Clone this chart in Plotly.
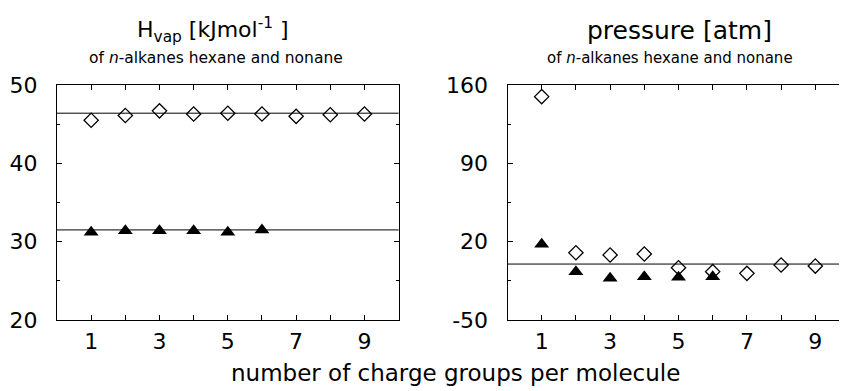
import plotly.graph_objects as go

# ---- data ----
charge_groups = [1, 2, 3, 4, 5, 6, 7, 8, 9]
hvap_nonane = [45.5, 46.1, 46.7, 46.3, 46.4, 46.3, 46.0, 46.2, 46.3]
hvap_hexane = [31.2, 31.4, 31.4, 31.4, 31.2, 31.5]
hvap_ref = [46.4, 31.5]          # experimental reference lines
press_nonane = [149.6, 10.1, 8.1, 9.0, -3.3, -6.8, -8.3, -0.9, -1.8]
press_hexane = [17.6, -6.8, -12.8, -11.3, -11.9, -11.3]
press_ref = [0.0]
x_ticks = [1, 2, 3, 4, 5, 6, 7, 8, 9]
x_ticktext = ["1", "", "3", "", "5", "", "7", "", "9"]
hvap_ticks = [20, 30, 40, 50]
hvap_ticktext = ["20", "30", "40", "50"]
press_ticks = [-50, 20, 90, 160]
press_ticktext = ["-50", "20", "90", "160"]

W, H = 847, 391
OFF = 8                      # page body margin offset
FW, FH = W - OFF, H - OFF
TOP, BOT = 85, 320           # plot area in page pixels
FONT = "DejaVu Sans, Liberation Sans, Arial, sans-serif"


def px(x):
    return (x - OFF) / FW


def py(y):
    return (BOT - y) / (BOT - TOP)


fig = go.Figure()

diamond = dict(symbol="diamond-open", size=11, color="black", line=dict(width=1.3, color="black"))
tri = dict(symbol="triangle-up", size=13, color="black", line=dict(width=0))

fig.add_trace(go.Scatter(x=charge_groups, y=hvap_nonane, mode="markers", marker=diamond,
                         xaxis="x", yaxis="y", showlegend=False))
fig.add_trace(go.Scatter(x=charge_groups[:len(hvap_hexane)], y=hvap_hexane, mode="markers", marker=tri,
                         xaxis="x", yaxis="y", showlegend=False))
fig.add_trace(go.Scatter(x=charge_groups, y=press_nonane, mode="markers", marker=diamond,
                         xaxis="x2", yaxis="y2", showlegend=False))
fig.add_trace(go.Scatter(x=charge_groups[:len(press_hexane)], y=press_hexane, mode="markers", marker=tri,
                         xaxis="x2", yaxis="y2", showlegend=False))

shapes = []
for v in hvap_ref:
    shapes.append(dict(type="line", xref="x domain", yref="y", x0=0, x1=1, y0=v, y1=v,
                       line=dict(color="black", width=1), layer="below"))
for v in press_ref:
    shapes.append(dict(type="line", xref="x2 domain", yref="y2", x0=0, x1=1, y0=v, y1=v,
                       line=dict(color="black", width=1), layer="below"))

x1_dom = [px(57), px(398.6)]
x2_dom = [px(507.5), 1.0]
x2_max = (W - 507.5) / 34.2

common_x = dict(tickmode="array", tickvals=x_ticks, ticktext=x_ticktext, ticks="inside",
                ticklen=5, tickcolor="black", showline=True, linecolor="black", linewidth=1,
                mirror="ticks", showgrid=False, zeroline=False, automargin=False,
                tickfont=dict(size=22, color="black", family=FONT), ticklabelstandoff=2)
common_y = dict(tickmode="array", ticks="inside", ticklen=5, tickcolor="black",
                showline=True, linecolor="black", linewidth=1, mirror="ticks",
                showgrid=False, zeroline=False, automargin=False,
                tickfont=dict(size=22, color="black", family=FONT), ticklabelstandoff=14)


def ann(text, x, y, size):
    return dict(text=text, x=px(x), y=py(y), xref="paper", yref="paper", showarrow=False,
                xanchor="center", yanchor="middle", font=dict(size=size, color="black", family=FONT))


fig.update_layout(
    width=FW, height=FH,
    margin=dict(l=0, r=0, t=TOP - OFF, b=H - BOT, pad=0),
    paper_bgcolor="white", plot_bgcolor="white",
    font=dict(family=FONT, color="black"),
    shapes=shapes,
    xaxis=dict(domain=x1_dom, range=[0, 10], anchor="y", **common_x),
    yaxis=dict(range=[20, 50], tickvals=hvap_ticks, ticktext=hvap_ticktext, anchor="x",
               minor=dict(tickvals=[25, 35, 45], ticks="inside", ticklen=3, tickcolor="black"),
               **common_y),
    xaxis2=dict(domain=x2_dom, range=[0, x2_max], anchor="y2", **common_x),
    yaxis2=dict(range=[-50, 160], tickvals=press_ticks, ticktext=press_ticktext, anchor="x2",
                minor=dict(tickvals=[-15, 55, 125], ticks="inside", ticklen=3, tickcolor="black"),
                **common_y),
    annotations=[
        ann("H<sub>vap</sub> [kJmol<sup>-1</sup> ]", 213, 30, 22),
        ann("of <i>n</i>-alkanes hexane and nonane", 216, 58, 15.5),
        ann("pressure [atm]", 679, 31, 25),
        ann("of <i>n</i>-alkanes hexane and nonane", 670, 58, 15),
        ann("number of charge groups per molecule", 455, 373, 23),
    ],
)

fig.write_html("out.html")
